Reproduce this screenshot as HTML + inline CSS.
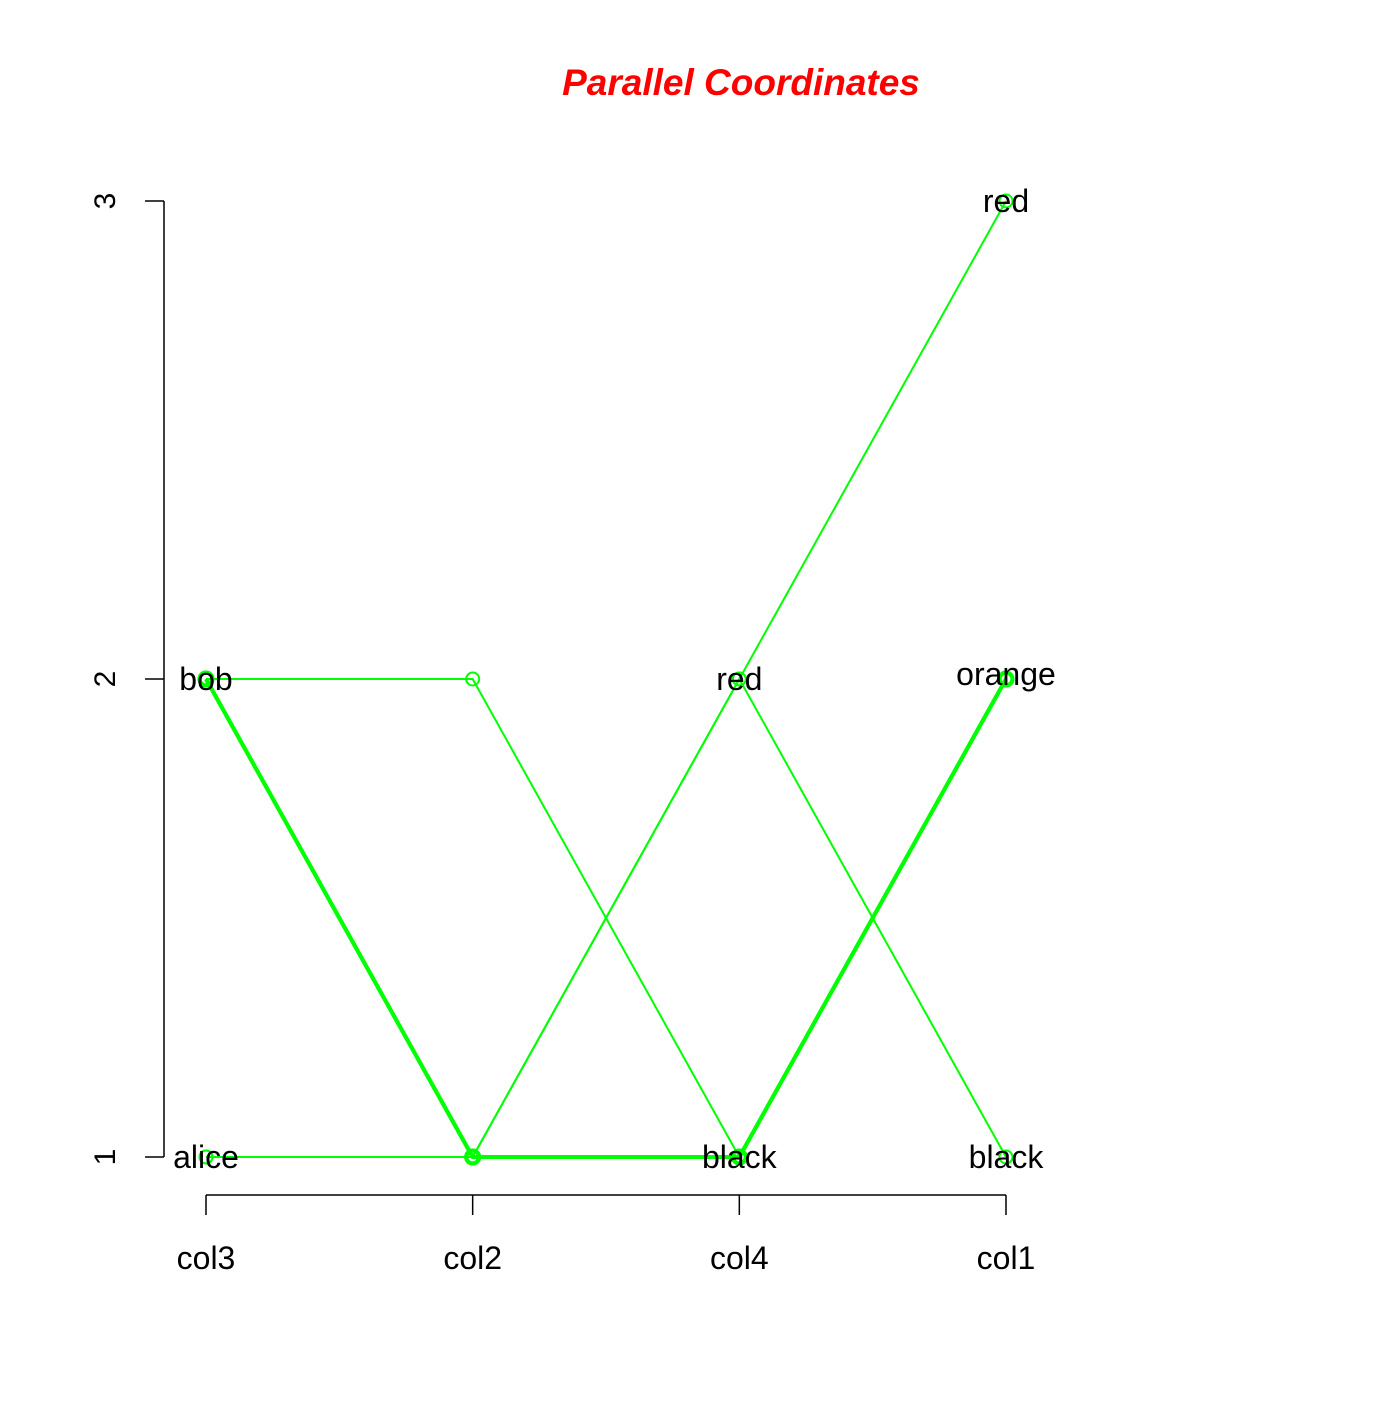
<!DOCTYPE html>
<html><head><meta charset="utf-8"><style>
html,body{margin:0;padding:0;background:#fff;}
svg text{font-family:"Liberation Sans",Arial,sans-serif;}
</style></head><body>
<svg id="chart" width="1400" height="1400" viewBox="0 0 1400 1400">
<text x="741" y="95" text-anchor="middle" font-size="37" font-weight="bold" font-style="italic" fill="#ff0000">Parallel Coordinates</text>
<g id="axes"></g>
<g id="lines"></g>
<g id="labels"></g>
</svg>
<script>
const categories = ["col3","col2","col4","col1"];
const rows = [
  [2,1,1,2],
  [2,1,1,2],
  [1,1,2,3],
  [1,1,2,1],
  [2,2,1,2]
];
const yTicks = [1,2,3];
const levelLabels = [
  ["alice","bob"],
  [],
  ["black","red"],
  ["black","orange","red"]
];
const NS="http://www.w3.org/2000/svg";
function xs(i){return 206 + i*(1006-206)/(categories.length-1);}
function ys(v){return 1157 - (v-1)*(1157-201)/2;}
function mk(tag,attrs,parent){const e=document.createElementNS(NS,tag);for(const k in attrs)e.setAttribute(k,attrs[k]);parent.appendChild(e);return e;}
const axes=document.getElementById('axes'), lines=document.getElementById('lines'), labels=document.getElementById('labels');
let ya=mk('line',{x1:164,y1:ys(3),x2:164,y2:ys(1),stroke:'#000','stroke-width':1.5},axes);


yTicks.forEach(t=>{
  let l=mk('line',{x1:145,y1:ys(t),x2:164,y2:ys(t),stroke:'#000','stroke-width':1.5},axes);
  
  
  let tx=mk('text',{x:115,y:ys(t),'font-size':30,'text-anchor':'middle',transform:`rotate(-90 115 ${ys(t)})`},axes);
  tx.textContent=t;
  
  
});
let xa=mk('line',{x1:xs(0),y1:1195,x2:xs(categories.length-1),y2:1195,stroke:'#000','stroke-width':1.5},axes);


categories.forEach((c,i)=>{
  let l=mk('line',{x1:xs(i),y1:1195,x2:xs(i),y2:1215,stroke:'#000','stroke-width':1.5},axes);
  
  
  let tx=mk('text',{x:xs(i),y:1269,'font-size':32,'text-anchor':'middle'},axes);
  tx.textContent=c;
  
  
});
const seen={};
rows.forEach(r=>{const k=r.join(',');seen[k]=(seen[k]||0)+1;});
rows.forEach(r=>{
  const w = 2*seen[r.join(',')];
  let p=mk('polyline',{points:r.map((v,i)=>xs(i)+','+ys(v)).join(' '),fill:'none',stroke:'#00ff00','stroke-width':w},lines);
  
  
  r.forEach((v,i)=>{
    let c=mk('circle',{cx:xs(i),cy:ys(v),r:6.5,fill:'none',stroke:'#00ff00','stroke-width':w},lines);
    
    
  });
});
levelLabels.forEach((arr,i)=>{
  arr.forEach((s,j)=>{
    let v=j+1;
    let dy=(s==='orange')?6:11;
    let tx=mk('text',{x:xs(i),y:ys(v)+dy,'font-size':32,'text-anchor':'middle',fill:'#000'},labels);
    tx.textContent=s;
    
    
  });
});
</script>
</body></html>
